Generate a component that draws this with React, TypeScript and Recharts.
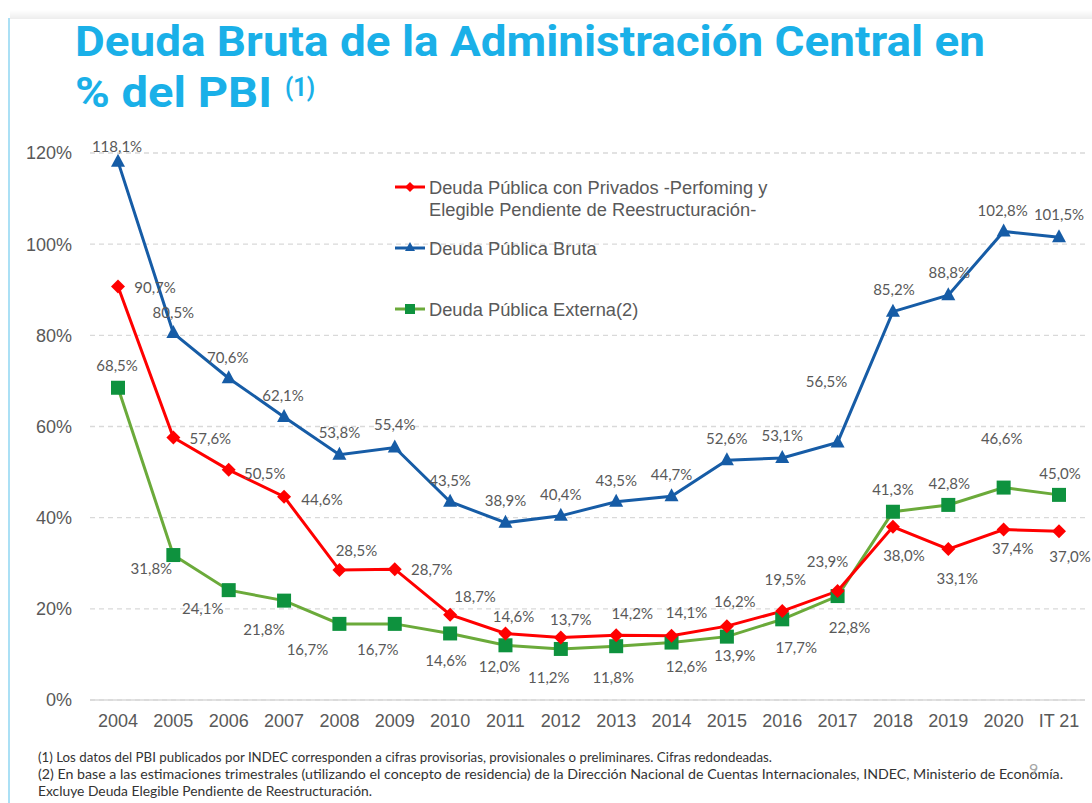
import React from 'react';
import { LineChart, Line, XAxis, YAxis, CartesianGrid, LabelList, Legend } from 'recharts';

const years = ['2004', '2005', '2006', '2007', '2008', '2009', '2010', '2011', '2012', '2013', '2014', '2015', '2016', '2017', '2018', '2019', '2020', 'IT 21'];
const privados = [90.7, 57.6, 50.5, 44.6, 28.5, 28.7, 18.7, 14.6, 13.7, 14.2, 14.1, 16.2, 19.5, 23.9, 38.0, 33.1, 37.4, 37.0];
const bruta = [118.1, 80.5, 70.6, 62.1, 53.8, 55.4, 43.5, 38.9, 40.4, 43.5, 44.7, 52.6, 53.1, 56.5, 85.2, 88.8, 102.8, 101.5];
const externa = [68.5, 31.8, 24.1, 21.8, 16.7, 16.7, 14.6, 12.0, 11.2, 11.8, 12.6, 13.9, 17.7, 22.8, 41.3, 42.8, 46.6, 45.0];
const yTicks = [0, 20, 40, 60, 80, 100, 120];

// label placement (dx, dy from the point), styling only
const privadosLabelOffsets = [[37, 0], [37, 1], [36, 3], [38, 2], [17, -20], [37, 0], [25, -19], [8, -17], [10, -19], [16, -22], [15, -24], [8, -25], [3, -32], [-10, -30], [11, 28], [9, 29], [9, 18], [11, 25]];
const brutaLabelOffsets = [[-1, -16], [0, -21], [-1, -21], [-1, -22], [0, -23], [0, -23], [0, -22], [0, -23], [0, -22], [0, -22], [0, -22], [0, -22], [0, -23], [-11, -61], [1, -23], [1, -23], [-1, -21], [0, -23]];
const externaLabelOffsets = [[-1, -23], [-22, 13], [-26, 18], [-20, 28], [-32, 25], [-17, 25], [-4, 27], [-6, 21], [-12, 28], [-3, 31], [15, 23], [8, 18], [14, 28], [12, 31], [0, -23], [1, -22], [-2, -50], [1, -22]];

const data = years.map((year, i) => ({ year, privados: privados[i], bruta: bruta[i], externa: externa[i] }));

const RED = '#FF0000';
const BLUE = '#165CA6';
const GREEN_LINE = '#6BAA3A';
const GREEN_MARK = '#0E923E';
const GRAY = '#595959';

const fmt = (v: number) => v.toFixed(1).replace('.', ',') + '%';

const Diamond = ({ cx, cy, r = 7, fill }: any) => (
  <polygon points={`${cx},${cy - r} ${cx + r},${cy} ${cx},${cy + r} ${cx - r},${cy}`} fill={fill} />
);
const Triangle = ({ cx, cy, s = 7, fill }: any) => (
  <polygon points={`${cx},${cy - s - 1} ${cx + s},${cy + s - 2} ${cx - s},${cy + s - 2}`} fill={fill} />
);
const Square = ({ cx, cy, s = 7, fill }: any) => (
  <rect x={cx - s} y={cy - s} width={2 * s} height={2 * s} fill={fill} />
);

const makeLabel = (offsets: number[][], values: number[]) => (props: any) => {
  const idx = props.index ?? 0;
  const vb = props.viewBox || {};
  const x = props.x ?? vb.x;
  const y = props.y ?? vb.y;
  if (x == null || y == null) return null;
  const off = offsets[idx] || [0, -20];
  const v = typeof props.value === 'number' ? props.value : values[idx];
  return (
    <text x={x + off[0]} y={y + off[1]} textAnchor="middle" dominantBaseline="central" fontFamily="Lato, 'Open Sans', sans-serif" fontSize={15} fill={GRAY}>
      {fmt(v)}
    </text>
  );
};

const LEG_FONT = "'Liberation Sans', Arial, sans-serif";

const LegendContent = () => (
  <svg width={420} height={160} style={{ display: 'block', overflow: 'visible' }}>
    <g>
      <line x1={5} x2={35} y1={17} y2={17} stroke={RED} strokeWidth={3} />
      <Diamond cx={20} cy={17} r={5} fill={RED} />
      <text x={39} y={17} dominantBaseline="central" fontFamily={LEG_FONT} fontSize={18.3} fill={GRAY}>
        <tspan x={39} dy={0}>Deuda Pública con Privados -Perfoming y</tspan>
        <tspan x={39} dy={22}>Elegible Pendiente de Reestructuración-</tspan>
      </text>
    </g>
    <g>
      <line x1={5} x2={35} y1={78} y2={78} stroke={BLUE} strokeWidth={3} />
      <Triangle cx={20} cy={78} s={5} fill={BLUE} />
      <text x={39} y={78} dominantBaseline="central" fontFamily={LEG_FONT} fontSize={18.3} fill={GRAY}>Deuda Pública Bruta</text>
    </g>
    <g>
      <line x1={5} x2={35} y1={139} y2={139} stroke={GREEN_LINE} strokeWidth={3} />
      <Square cx={20} cy={139} s={5} fill={GREEN_MARK} />
      <text x={39} y={139} dominantBaseline="central" fontFamily={LEG_FONT} fontSize={18.3} fill={GRAY}>Deuda Pública Externa(2)</text>
    </g>
  </svg>
);

export default function App() {
  return (
    <div style={{ position: 'absolute', left: 0, top: 0, width: 1092, height: 803, background: '#fff', overflow: 'hidden' }}>
      <LineChart width={1092} height={803} data={data} margin={{ top: 153, right: 7, left: 10, bottom: 73 }}>
        <CartesianGrid vertical={false} stroke="#D9D9D9" strokeDasharray="5 4" strokeWidth={1.3} />
        <XAxis
          dataKey="year"
          padding={{ left: 28, right: 26 }}
          axisLine={{ stroke: '#D9D9D9', strokeWidth: 1.5 }}
          tickLine={false}
          tickMargin={8}
          height={30}
          interval={0}
          tick={{ fill: GRAY, fontSize: 18, fontFamily: LEG_FONT }}
        />
        <YAxis
          width={80}
          domain={[0, 120]}
          ticks={yTicks}
          tickFormatter={(v: number) => `${v}%`}
          axisLine={false}
          tickLine={false}
          tickMargin={12}
          tick={{ fill: GRAY, fontSize: 18, fontFamily: LEG_FONT }}
        />
        <Legend layout="vertical" verticalAlign="middle" align="center" content={<LegendContent />} wrapperStyle={{ position: 'absolute', left: 390, top: 170, width: 420, height: 160 }} />
        <Line
          type="linear"
          dataKey="externa"
          name="Deuda Pública Externa(2)"
          stroke={GREEN_LINE}
          strokeWidth={3}
          isAnimationActive={false}
          dot={(p: any) => <Square key={`e${p.index}`} cx={p.cx} cy={p.cy} s={7} fill={GREEN_MARK} />}
          activeDot={false}
        >
          <LabelList dataKey="externa" content={makeLabel(externaLabelOffsets, externa)} />
        </Line>
        <Line
          type="linear"
          dataKey="privados"
          name="Deuda Pública con Privados -Perfoming y Elegible Pendiente de Reestructuración-"
          stroke={RED}
          strokeWidth={3}
          isAnimationActive={false}
          dot={(p: any) => <Diamond key={`p${p.index}`} cx={p.cx} cy={p.cy} r={7} fill={RED} />}
          activeDot={false}
        >
          <LabelList dataKey="privados" content={makeLabel(privadosLabelOffsets, privados)} />
        </Line>
        <Line
          type="linear"
          dataKey="bruta"
          name="Deuda Pública Bruta"
          stroke={BLUE}
          strokeWidth={3}
          isAnimationActive={false}
          dot={(p: any) => <Triangle key={`b${p.index}`} cx={p.cx} cy={p.cy} s={7} fill={BLUE} />}
          activeDot={false}
        >
          <LabelList dataKey="bruta" content={makeLabel(brutaLabelOffsets, bruta)} />
        </Line>
      </LineChart>
      <svg width={1092} height={803} style={{ position: 'absolute', left: 0, top: 0, pointerEvents: 'none' }}>
        <defs>
          <linearGradient id="topShade" x1="0" y1="0" x2="0" y2="1">
            <stop offset="0" stopColor="#ffffff" />
            <stop offset="1" stopColor="#EDEDED" />
          </linearGradient>
        </defs>
        <rect x={10} y={10} width={1082} height={9} fill="url(#topShade)" />
        <line x1={9} x2={9} y1={18} y2={803} stroke="#8FD6F2" strokeWidth={1.5} />
        <text fontFamily="Roboto, 'Open Sans', sans-serif" fontWeight={700} fontSize={43} fill="#1AB0E8">
          <tspan x={75} y={56} textLength={910} lengthAdjust="spacingAndGlyphs">Deuda Bruta de la Administración Central en</tspan>
          <tspan x={75} y={107} textLength={197} lengthAdjust="spacingAndGlyphs">% del PBI</tspan>
          <tspan x={285} y={96} fontSize={25} textLength={30} lengthAdjust="spacingAndGlyphs">(1)</tspan>
        </text>
        <text fontFamily="Lato, sans-serif" fontSize={13} fill="#333">
          <tspan x={38} y={762} textLength={734} lengthAdjust="spacingAndGlyphs">(1) Los datos del PBI publicados por INDEC corresponden a cifras provisorias, provisionales o preliminares. Cifras redondeadas.</tspan>
          <tspan x={38} y={779} textLength={1025} lengthAdjust="spacingAndGlyphs">(2) En base a las estimaciones trimestrales (utilizando el concepto de residencia) de la Dirección Nacional de Cuentas Internacionales, INDEC, Ministerio de Economía.</tspan>
          <tspan x={38} y={796} textLength={334} lengthAdjust="spacingAndGlyphs">Excluye Deuda Elegible Pendiente de Reestructuración.</tspan>
        </text>
        <text x={1029} y={775} fontFamily="Lato, sans-serif" fontSize={16} fill="#A6A6A6">9</text>
      </svg>
    </div>
  );
}
